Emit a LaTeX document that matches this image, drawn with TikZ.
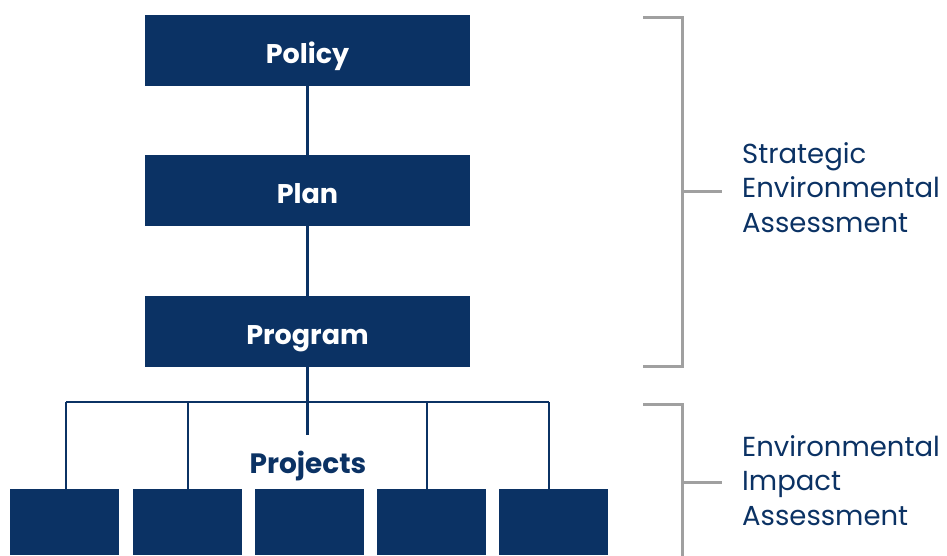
\documentclass[tikz,border=0pt]{standalone}
\usepackage{fontspec}
\setmainfont{Poppins}
\definecolor{navy}{RGB}{11,50,100}
\definecolor{brk}{RGB}{160,160,160}
\tikzset{
  bigbox/.style={fill=navy, draw=none, minimum width=325pt, minimum height=71pt, inner sep=0pt, text=white, text height=25pt, text depth=0pt, font=\fontsize{27}{32}\selectfont\bfseries},
  projbox/.style={fill=navy, draw=none, minimum width=109pt, minimum height=66pt, inner sep=0pt},
  link/.style={draw=navy, line width=2.5pt},
  bracket/.style={draw=brk, line width=3pt},
  label/.style={text=navy, anchor=base west, align=left, inner sep=0pt, font=\fontsize{27.5}{34.5}\selectfont}
}
\begin{document}
\begin{tikzpicture}[x=1pt,y=-1pt]
\useasboundingbox (0,0) rectangle (947,555);
\node[bigbox] (policy) at (307.5,50.5) {Policy};
\node[bigbox] (plan) at (307.5,190.5) {Plan};
\node[bigbox] (program) at (307.5,331.5) {Program};
\node[projbox] (p1) at (64.5,522) {};
\node[projbox] (p2) at (187,522) {};
\node[projbox] (p3) at (309,522) {};
\node[projbox] (p4) at (431,522) {};
\node[projbox] (p5) at (553,522) {};
\node[text=navy, font=\fontsize{28}{32}\selectfont\bfseries, inner sep=0pt, anchor=base] (projects) at (308,473) {Projects};
\draw[link] (policy) -- (plan);
\draw[link] (plan) -- (program);
\coordinate (busL) at (66,402);
\coordinate (busB) at (188,402);
\coordinate (busD) at (427,402);
\coordinate (busR) at (549,402);
\coordinate (stub) at (307.5,435);
\draw[link] (program.south) -- (stub);
\draw[link] (busL) -- (busR);
\draw[link] (busL) -- (busL |- p1.north);
\draw[link] (busB) -- (busB |- p2.north);
\draw[link] (busD) -- (busD |- p4.north);
\draw[link] (busR) -- (busR |- p5.north);
% brackets
\coordinate (b1a) at (643,17);
\coordinate (b1b) at (682,17);
\coordinate (b1c) at (682,366);
\coordinate (b1d) at (643,366);
\coordinate (b1m) at (682,191);
\coordinate (b1t) at (722,191);
\draw[bracket] (b1a) -- (b1b) -- (b1c) -- (b1d);
\draw[bracket] (b1m) -- (b1t);
\node[label] (sea) at (742,232) {Strategic\\Environmental\\Assessment};
\coordinate (b2a) at (643,404);
\coordinate (b2b) at (682,404);
\coordinate (b2c) at (682,556);
\coordinate (b2m) at (682,482);
\coordinate (b2t) at (722,482);
\draw[bracket] (b2a) -- (b2b) -- (b2c);
\draw[bracket] (b2m) -- (b2t);
\node[label] (eia) at (742,525) {Environmental\\Impact\\Assessment};
\end{tikzpicture}
\end{document}
